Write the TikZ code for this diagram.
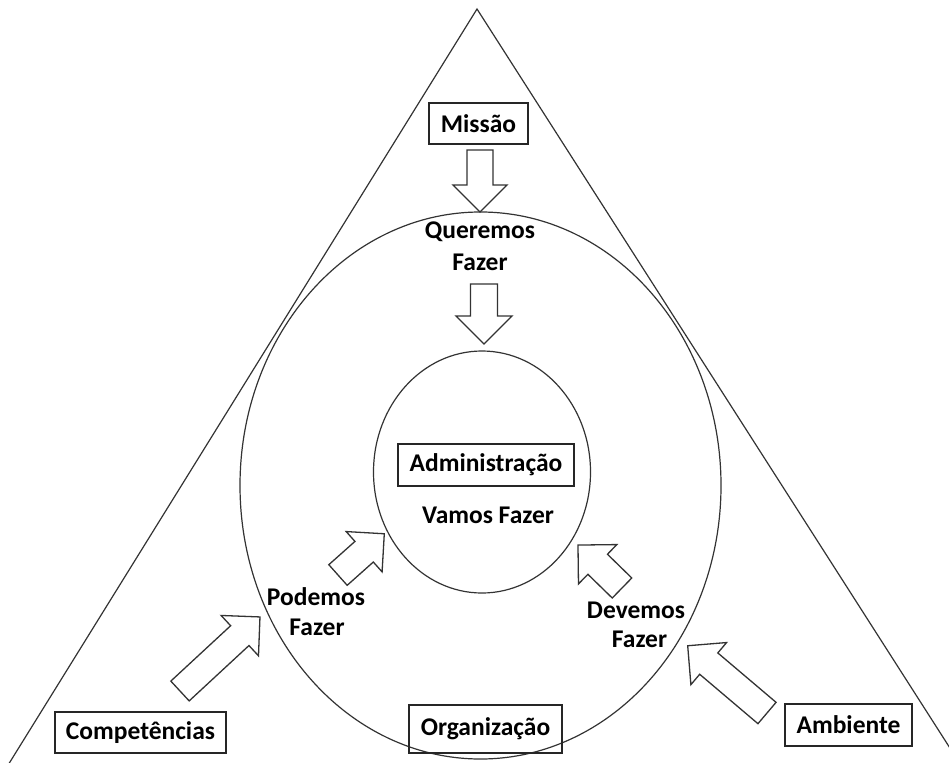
\documentclass[tikz,border=0pt]{standalone}
\usepackage{fontspec}
\setmainfont{Carlito}
\tikzset{
  lbl/.style={font=\fontsize{25.5}{25.5}\selectfont\bfseries, inner sep=0pt, text=black},
  box/.style={lbl, draw=black!85, line width=1.4pt, minimum height=41pt},
  thin/.style={line width=1.2pt, black!80},
  blockarr/.style={line width=1.3pt, black!80, fill=white, line join=miter},
}
\newcommand\barrow[5]{%
  \begin{scope}[shift={#1},rotate=#2]
    \draw[blockarr] (0,-#4) -- ({#3-#5},-#4) -- ({#3-#5},-#5) -- (#3,0)
      -- ({#3-#5},#5) -- ({#3-#5},#4) -- (0,#4) -- cycle;
  \end{scope}}
\begin{document}
\begin{tikzpicture}[x=1pt,y=-1pt]
\useasboundingbox (0,0) rectangle (949,762);
\clip (0,0) rectangle (949,762);
% triangle
\coordinate (apex) at (477,9);
\coordinate (bl) at (5,770);
\coordinate (br) at (964,770);
\draw[thin] (bl) -- (apex) -- (br);
% ellipses
\draw[thin] (480.5,485.5) ellipse [x radius=240.5, y radius=273.5];
\draw[thin] (482,472) ellipse [x radius=108.5, y radius=121];
% boxes
\node[box, minimum width=99pt] (mis) at (478.5,123.5) {Missão};
\node[box, minimum width=176pt, minimum height=42pt] (adm) at (486,465) {Administração};
\node[box, minimum width=171pt] (comp) at (140.5,732.5) {Competências};
\node[box, minimum width=127pt, minimum height=42pt] (amb) at (848.5,725) {Ambiente};
\node[box, minimum width=153pt, minimum height=48pt] (org) at (485.5,729) {Organização};
% labels
\node[lbl] (q1) at (480,232) {Queremos};
\node[lbl] (q2) at (480,262) {Fazer};
\node[lbl] (v) at (488,515) {Vamos Fazer};
\node[lbl] (p1) at (316,597) {Podemos};
\node[lbl] (p2) at (317,627) {Fazer};
\node[lbl] (d1) at (636,610) {Devemos};
\node[lbl] (d2) at (639.5,639) {Fazer};
% block arrows: tail, angle, length, shaft half, head half
\barrow{(480,150)}{-90}{62}{13}{27}
\barrow{(484,284)}{-90}{60}{13.5}{28}
\barrow{(180,691)}{42.8}{109}{13.5}{27.5}
\barrow{(338,575)}{41.7}{62}{13.8}{27}
\barrow{(622,588)}{135.7}{61.5}{14}{27.5}
\barrow{(767,713)}{139.7}{104}{14}{27.6}
\end{tikzpicture}
\end{document}
